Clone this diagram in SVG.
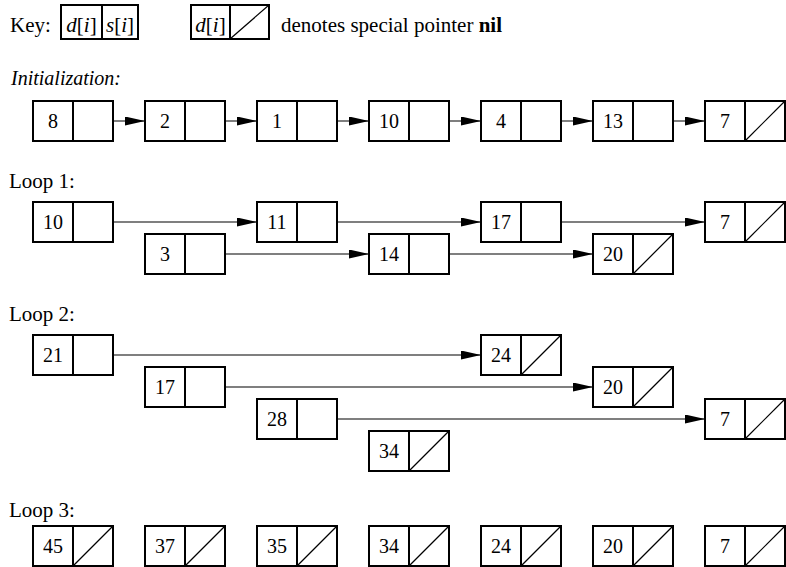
<svg xmlns="http://www.w3.org/2000/svg" width="786" height="567" viewBox="0 0 786 567" font-family="'Liberation Serif', 'Times New Roman', Times, serif">
<defs>
<style>
text{font-family:'Liberation Serif','Times New Roman',Times,serif;font-size:20px;fill:#000}
text.lbl{font-size:21px}
.c{text-anchor:middle}
.it{font-style:italic}
.b{font-weight:bold}
rect.box{fill:#fff;stroke:#000;stroke-width:2}
line.div{stroke:#000;stroke-width:2}
line.nil{stroke:#000;stroke-width:1.2}
#connectors line{stroke:#000;stroke-width:1.1;marker-end:url(#ah)}
</style>
<marker id="ah" markerUnits="userSpaceOnUse" markerWidth="20" markerHeight="9" refX="20" refY="4.5" orient="auto" viewBox="0 0 20 9">
<path d="M0,0 L20,4.5 L0,9 Z" fill="#000"/>
</marker>
<g id="cell"><rect class="box" x="0" y="0" width="80" height="40"/><line class="div" x1="40" y1="0" x2="40" y2="40"/></g>
<g id="nilcell"><rect class="box" x="0" y="0" width="80" height="40"/><line class="div" x1="40" y1="0" x2="40" y2="40"/><line class="nil" x1="40" y1="40" x2="80" y2="0"/></g>
</defs>
<rect width="786" height="567" fill="#fff"/>

<g id="key">
<text x="10" y="32" class="lbl">Key:</text>
<rect class="box" x="61" y="5" width="77" height="34"/>
<line class="div" x1="102" y1="5" x2="102" y2="39"/>
<text x="81.5" y="32" class="c lbl"><tspan class="it">d</tspan>[<tspan class="it">i</tspan>]</text>
<text x="120" y="32" class="c lbl"><tspan class="it">s</tspan>[<tspan class="it">i</tspan>]</text>
<rect class="box" x="191" y="5" width="78" height="34"/>
<line class="div" x1="230" y1="5" x2="230" y2="39"/>
<line class="nil" x1="230" y1="39" x2="269" y2="5"/>
<text x="210.5" y="32" class="c lbl"><tspan class="it">d</tspan>[<tspan class="it">i</tspan>]</text>
<text x="281" y="32" class="lbl">denotes special pointer <tspan class="b">nil</tspan></text>
</g>

<text x="11" y="85" class="it">Initialization:</text>
<text x="9" y="188" class="lbl">Loop 1:</text>
<text x="9" y="321" class="lbl">Loop 2:</text>
<text x="9" y="517" class="lbl">Loop 3:</text>

<g id="connectors">
<line x1="93" y1="121" x2="145" y2="121"/>
<line x1="205" y1="121" x2="257" y2="121"/>
<line x1="317" y1="121" x2="369" y2="121"/>
<line x1="429" y1="121" x2="481" y2="121"/>
<line x1="541" y1="121" x2="593" y2="121"/>
<line x1="653" y1="121" x2="705" y2="121"/>
<line x1="93" y1="222" x2="257" y2="222"/>
<line x1="317" y1="222" x2="481" y2="222"/>
<line x1="541" y1="222" x2="705" y2="222"/>
<line x1="205" y1="254" x2="369" y2="254"/>
<line x1="429" y1="254" x2="593" y2="254"/>
<line x1="93" y1="355" x2="481" y2="355"/>
<line x1="205" y1="387" x2="593" y2="387"/>
<line x1="317" y1="419" x2="705" y2="419"/>
</g>

<!-- Initialization -->
<g id="init-8" transform="translate(33,101)"><use href="#cell"/><text x="20" y="27" class="c">8</text></g>
<g id="init-2" transform="translate(145,101)"><use href="#cell"/><text x="20" y="27" class="c">2</text></g>
<g id="init-1" transform="translate(257,101)"><use href="#cell"/><text x="20" y="27" class="c">1</text></g>
<g id="init-10" transform="translate(369,101)"><use href="#cell"/><text x="20" y="27" class="c">10</text></g>
<g id="init-4" transform="translate(481,101)"><use href="#cell"/><text x="20" y="27" class="c">4</text></g>
<g id="init-13" transform="translate(593,101)"><use href="#cell"/><text x="20" y="27" class="c">13</text></g>
<g id="init-7" transform="translate(705,101)"><use href="#nilcell"/><text x="20" y="27" class="c">7</text></g>

<!-- Loop 1 -->
<g id="l1-10" transform="translate(33,202)"><use href="#cell"/><text x="20" y="27" class="c">10</text></g>
<g id="l1-11" transform="translate(257,202)"><use href="#cell"/><text x="20" y="27" class="c">11</text></g>
<g id="l1-17" transform="translate(481,202)"><use href="#cell"/><text x="20" y="27" class="c">17</text></g>
<g id="l1-7" transform="translate(705,202)"><use href="#nilcell"/><text x="20" y="27" class="c">7</text></g>
<g id="l1-3" transform="translate(145,234)"><use href="#cell"/><text x="20" y="27" class="c">3</text></g>
<g id="l1-14" transform="translate(369,234)"><use href="#cell"/><text x="20" y="27" class="c">14</text></g>
<g id="l1-20" transform="translate(593,234)"><use href="#nilcell"/><text x="20" y="27" class="c">20</text></g>

<!-- Loop 2 -->
<g id="l2-21" transform="translate(33,335)"><use href="#cell"/><text x="20" y="27" class="c">21</text></g>
<g id="l2-24" transform="translate(481,335)"><use href="#nilcell"/><text x="20" y="27" class="c">24</text></g>
<g id="l2-17" transform="translate(145,367)"><use href="#cell"/><text x="20" y="27" class="c">17</text></g>
<g id="l2-20" transform="translate(593,367)"><use href="#nilcell"/><text x="20" y="27" class="c">20</text></g>
<g id="l2-28" transform="translate(257,399)"><use href="#cell"/><text x="20" y="27" class="c">28</text></g>
<g id="l2-7" transform="translate(705,399)"><use href="#nilcell"/><text x="20" y="27" class="c">7</text></g>
<g id="l2-34" transform="translate(369,431)"><use href="#nilcell"/><text x="20" y="27" class="c">34</text></g>

<!-- Loop 3 -->
<g id="l3-45" transform="translate(33,526)"><use href="#nilcell"/><text x="20" y="27" class="c">45</text></g>
<g id="l3-37" transform="translate(145,526)"><use href="#nilcell"/><text x="20" y="27" class="c">37</text></g>
<g id="l3-35" transform="translate(257,526)"><use href="#nilcell"/><text x="20" y="27" class="c">35</text></g>
<g id="l3-34" transform="translate(369,526)"><use href="#nilcell"/><text x="20" y="27" class="c">34</text></g>
<g id="l3-24" transform="translate(481,526)"><use href="#nilcell"/><text x="20" y="27" class="c">24</text></g>
<g id="l3-20" transform="translate(593,526)"><use href="#nilcell"/><text x="20" y="27" class="c">20</text></g>
<g id="l3-7" transform="translate(705,526)"><use href="#nilcell"/><text x="20" y="27" class="c">7</text></g>
</svg>
